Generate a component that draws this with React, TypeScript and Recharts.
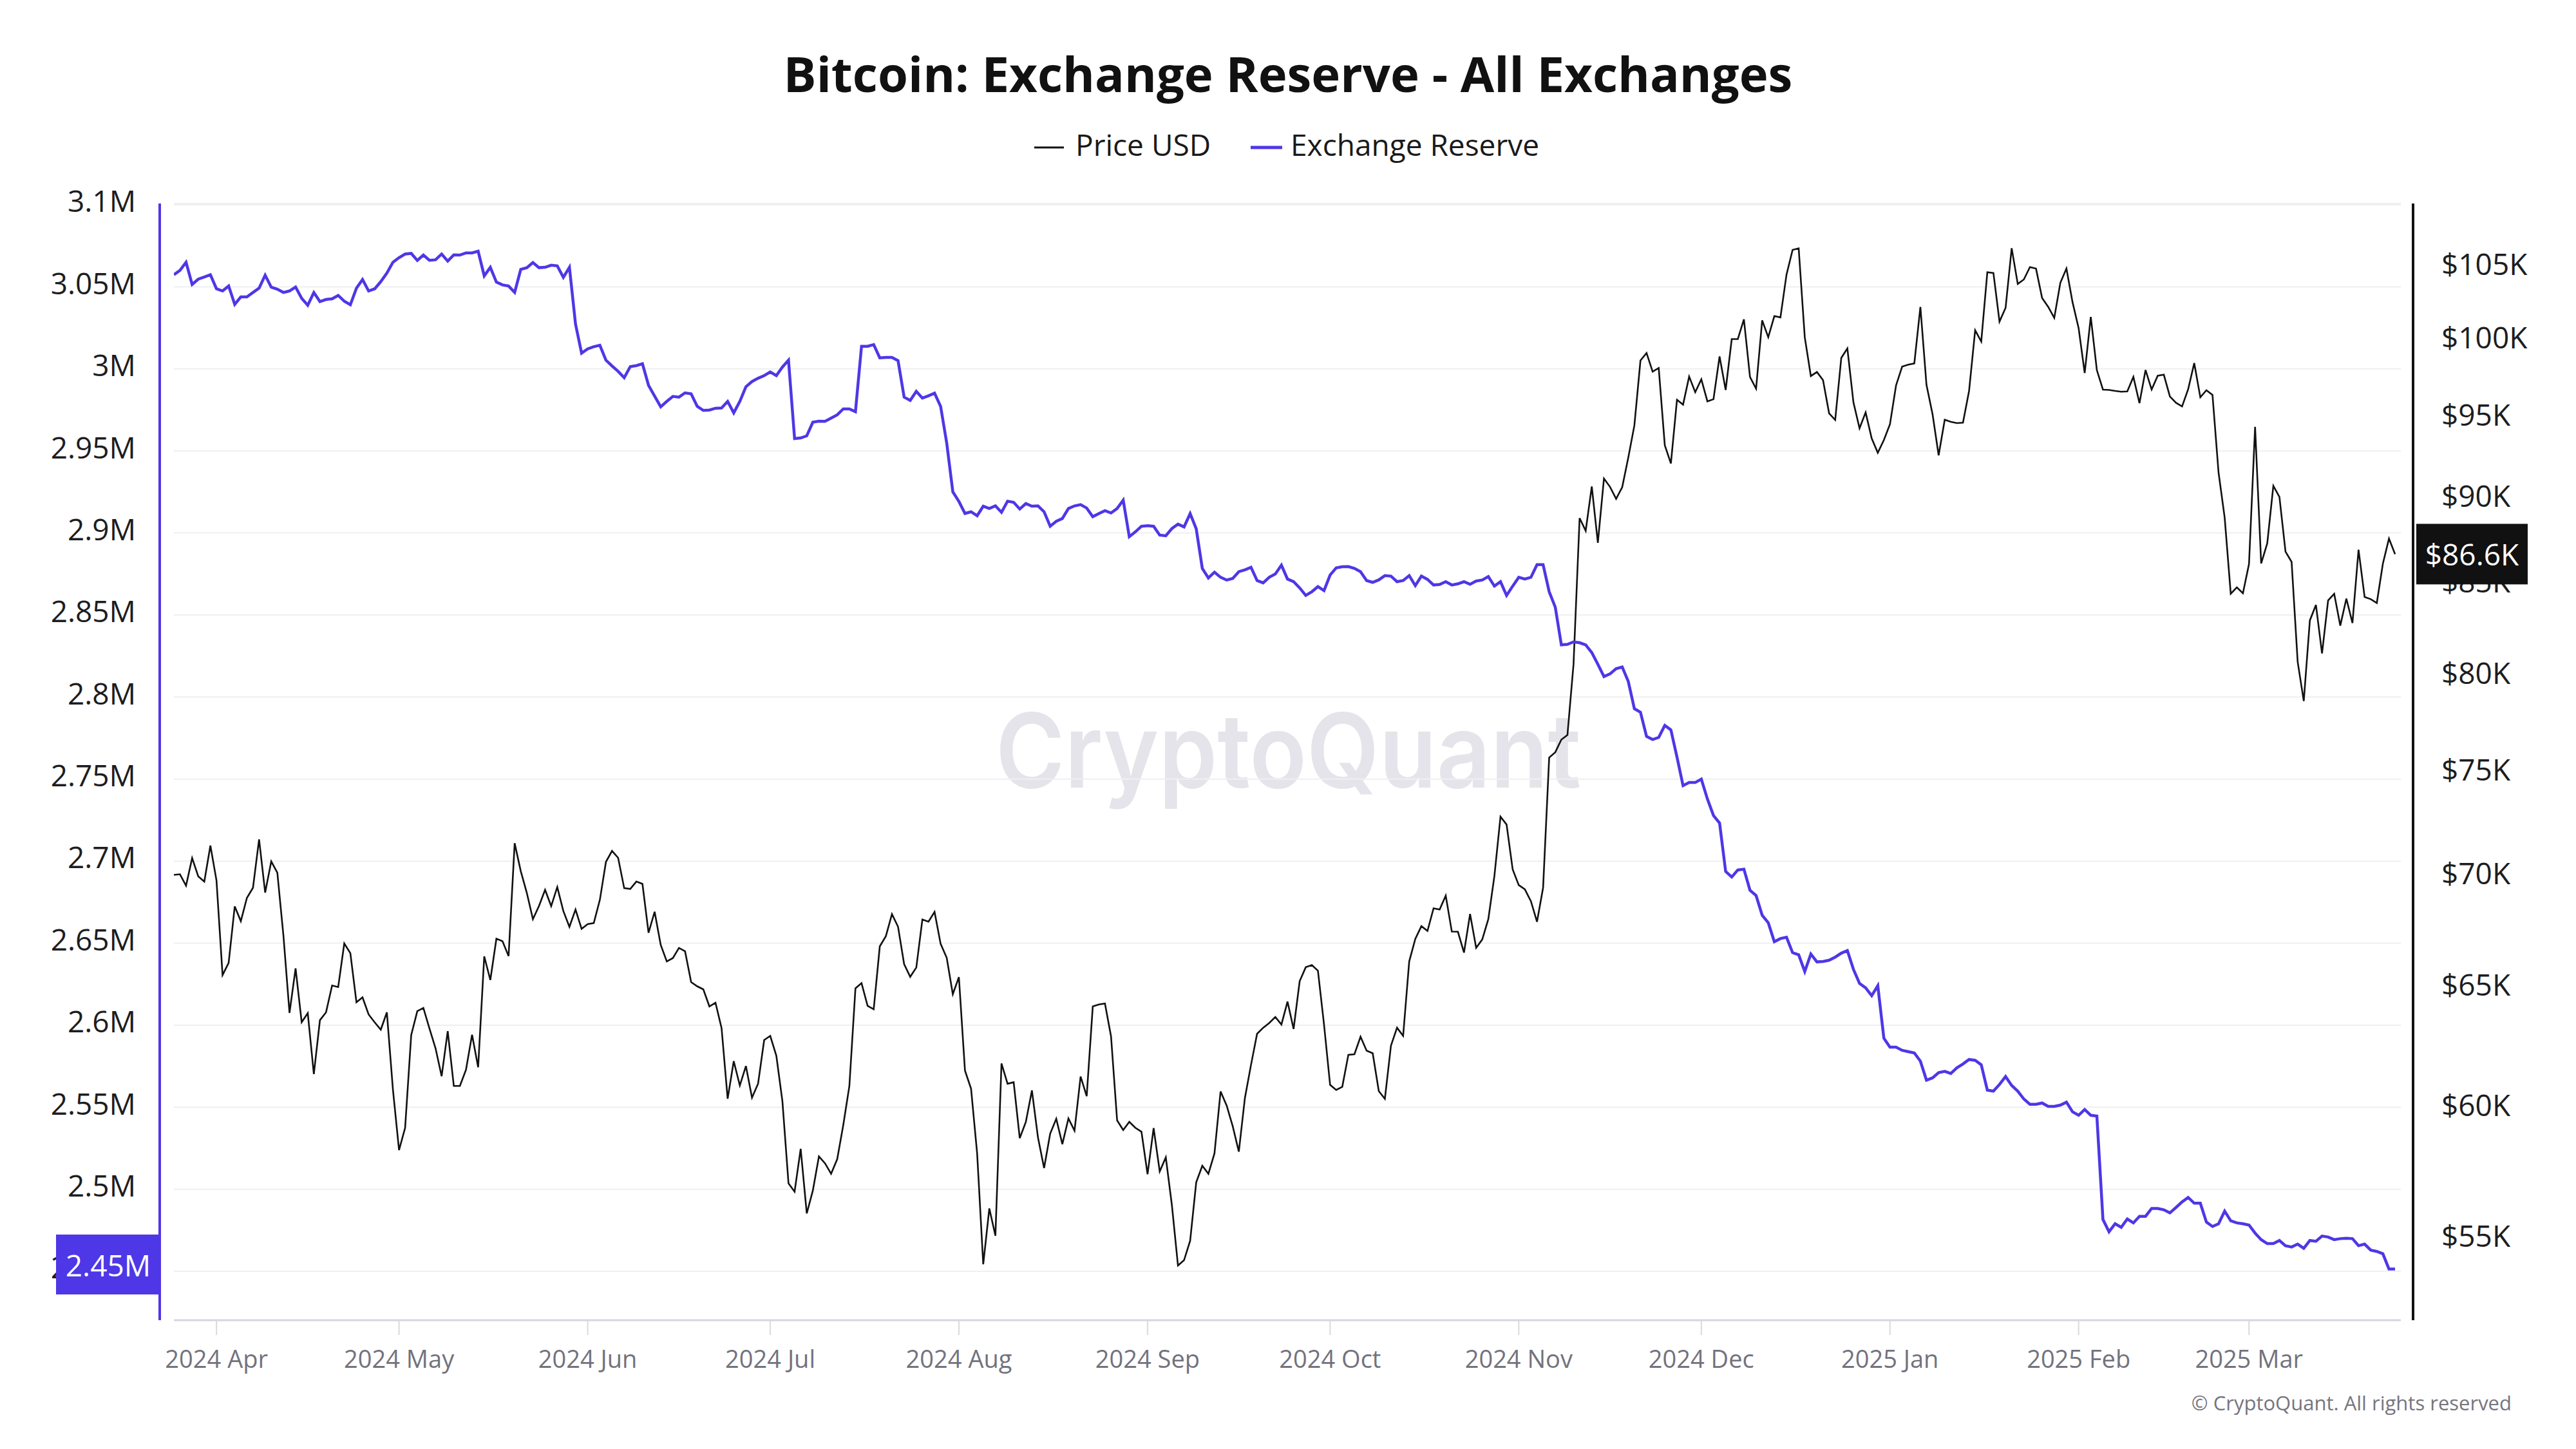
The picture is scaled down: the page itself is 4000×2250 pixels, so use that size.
import React from 'react';
import { LineChart, Line, XAxis, YAxis, CartesianGrid, ReferenceLine } from 'recharts';

// ---------------- DATA ----------------
const START_DATE = '2024-03-25';

// Daily BTC price (USD), 2024-03-25 .. 2025-03-25
const priceUSD: number[] = [
  69958, 69987, 69455, 70744, 69892, 69645, 71333,
  69702, 65446, 65980, 68508, 67837, 68896, 69362, 71631, 69139, 70587, 70060, 67195, 63821, 65738, 63426, 63811, 61276, 63513, 63843, 64994, 64927, 66837, 66407, 64276, 64482, 63756, 63419, 63114, 63842, 60636,
  58254, 59123, 62889, 63892, 64031, 63162, 62335, 61187, 63050, 60793, 60794, 61448, 62901, 61553, 66268, 65231, 67051, 66940, 66278, 71448, 70136, 69122, 67929, 68526, 69265, 68518, 69394, 68296, 67578, 68364, 67491,
  67706, 67751, 68804, 70567, 71082, 70757, 69342, 69305, 69648, 69540, 67314, 68263, 66774, 66044, 66191, 66639, 66491, 65140, 64960, 64828, 64096, 64253, 63180, 60277, 61804, 60811, 61604, 60320, 60887, 62678,
  62851, 62029, 60173, 56977, 56662, 58303, 55849, 56706, 58009, 57742, 57345, 57899, 59231, 60787, 64870, 65097, 64118, 63974, 66709, 67164, 68154, 67585, 65927, 65372, 65777, 67913, 67813, 68255, 66820, 66201, 64619,
  65357, 61415, 60680, 58116, 53991, 56034, 55027, 61710, 60881, 60945, 58719, 59354, 60610, 58737, 57560, 58894, 59478, 58483, 59493, 59012, 61175, 60381, 64094, 64178, 64219, 62834, 59415, 59034, 59359, 59123, 58969,
  57325, 59112, 57431, 57971, 56160, 53948, 54140, 54841, 57019, 57648, 57343, 58127, 60571, 60005, 59182, 58192, 60309, 61649, 62940, 63192, 63394, 63648, 63329, 64301, 63143, 65181, 65790, 65887, 65635, 63329,
  60837, 60632, 60759, 62067, 62089, 62818, 62236, 62131, 60583, 60274, 62445, 63193, 62851, 66046, 67041, 67612, 67399, 68418, 68362, 69001, 67367, 67362, 66432, 68161, 66642, 67014, 67929, 69907, 72720, 72339, 70215,
  69482, 69289, 68742, 67811, 69359, 75639, 75904, 76545, 76778, 80474, 88701, 87955, 90585, 87250, 91066, 90558, 89845, 90542, 92343, 94339, 98504, 98997, 97777, 98013, 93102, 91985, 95962, 95652, 97461, 96449,
  97279, 95865, 96002, 98768, 96593, 99920, 99923, 101236, 97432, 96675, 101173, 100043, 101459, 101372, 104298, 106030, 106140, 100041, 97490, 97755, 97225, 95104, 94686, 98676, 99299, 95795, 94164, 95163, 93530, 92643, 93429,
  94419, 96886, 98107, 98236, 98315, 102078, 96922, 95043, 92484, 94701, 94566, 94488, 94516, 96534, 100505, 99756, 104462, 104408, 101089, 102016, 106147, 103653, 103960, 104819, 104714, 102682, 102088, 101333, 103733, 104722, 102405,
  100655, 97688, 101405, 97871, 96616, 96594, 96529, 96482, 96500, 97437, 95747, 97885, 96624, 97508, 97580, 96176, 95773, 95539, 96636, 98334, 96125, 96577, 96274, 91418, 88737, 84347, 84704, 84373,
  86032, 94248, 86065, 87222, 90623, 89961, 86742, 86154, 80601, 78532, 82862, 83722, 81066, 83969, 84343, 82579, 84075, 82718, 86854, 84167, 84043, 83832, 86054, 87498, 86600,
];

// Daily exchange reserve (millions of BTC), 2024-03-25 .. 2025-03-25
const reserveM: number[] = [
  3.0574, 3.0600, 3.0650, 3.0515, 3.0547, 3.0560, 3.0574, 3.0488, 3.0475, 3.0505,
  3.0393, 3.0439, 3.0439, 3.0466, 3.0492, 3.0571, 3.0498, 3.0486, 3.0466, 3.0475,
  3.0499, 3.0430, 3.0388, 3.0465, 3.0410, 3.0423, 3.0427, 3.0448, 3.0413, 3.0391,
  3.0492, 3.0545, 3.0475, 3.0488, 3.0532, 3.0584, 3.0650, 3.0678, 3.0700, 3.0704,
  3.0661, 3.0694, 3.0662, 3.0665, 3.0700, 3.0657, 3.0695, 3.0694, 3.0707, 3.0707,
  3.0717, 3.0567, 3.0619, 3.0529, 3.0512, 3.0505, 3.0466, 3.0606, 3.0617, 3.0648,
  3.0617, 3.0619, 3.0632, 3.0628, 3.0558, 3.0619, 3.0273, 3.0096, 3.0122, 3.0135,
  3.0144, 3.0053, 3.0018, 2.9985, 2.9946, 3.0014, 3.0020, 3.0031, 2.9900, 2.9834,
  2.9769, 2.9802, 2.9832, 2.9828, 2.9854, 2.9848, 2.9772, 2.9747, 2.9749, 2.9760,
  2.9762, 2.9802, 2.9732, 2.9802, 2.9891, 2.9923, 2.9943, 2.9959, 2.9981, 2.9959,
  3.0011, 3.0053, 2.9575, 2.9579, 2.9592, 2.9675, 2.9681, 2.9680, 2.9700, 2.9720,
  2.9756, 2.9756, 2.9739, 3.0138, 3.0138, 3.0148, 3.0067, 3.0070, 3.0070, 3.0050,
  2.9828, 2.9808, 2.9863, 2.9822, 2.9836, 2.9852, 2.9771, 2.9548, 2.9251, 2.9192,
  2.9119, 2.9129, 2.9105, 2.9163, 2.9149, 2.9165, 2.9126, 2.9194, 2.9187, 2.9146,
  2.9179, 2.9163, 2.9165, 2.9129, 2.9041, 2.9071, 2.9088, 2.9149, 2.9165, 2.9173,
  2.9152, 2.9099, 2.9118, 2.9136, 2.9122, 2.9149, 2.9200, 2.8977, 2.9007, 2.9041,
  2.9044, 2.9041, 2.8987, 2.8983, 2.9027, 2.9054, 2.9037, 2.9118, 2.9025, 2.8784,
  2.8726, 2.8761, 2.8730, 2.8713, 2.8723, 2.8764, 2.8775, 2.8791, 2.8710, 2.8696,
  2.8730, 2.8750, 2.8804, 2.8719, 2.8703, 2.8665, 2.8619, 2.8642, 2.8673, 2.8649,
  2.8744, 2.8787, 2.8794, 2.8795, 2.8784, 2.8764, 2.8710, 2.8699, 2.8714, 2.8740,
  2.8737, 2.8703, 2.8710, 2.8740, 2.8679, 2.8737, 2.8717, 2.8683, 2.8686, 2.8703,
  2.8683, 2.8690, 2.8703, 2.8687, 2.8707, 2.8713, 2.8734, 2.8676, 2.8703, 2.8619,
  2.8676, 2.8730, 2.8719, 2.8730, 2.8807, 2.8807, 2.8642, 2.8548, 2.8318, 2.8321,
  2.8336, 2.8331, 2.8318, 2.8271, 2.8200, 2.8125, 2.8141, 2.8173, 2.8183, 2.8095,
  2.7929, 2.7907, 2.7760, 2.7741, 2.7754, 2.7827, 2.7800, 2.7634, 2.7460, 2.7479,
  2.7479, 2.7500, 2.7379, 2.7278, 2.7232, 2.6937, 2.6903, 2.6946, 2.6951, 2.6822,
  2.6790, 2.6670, 2.6624, 2.6509, 2.6528, 2.6536, 2.6442, 2.6429, 2.6327, 2.6434,
  2.6386, 2.6388, 2.6396, 2.6415, 2.6439, 2.6455, 2.6340, 2.6255, 2.6228, 2.6180,
  2.6241, 2.5920, 2.5866, 2.5866, 2.5847, 2.5839, 2.5831, 2.5781, 2.5665, 2.5679,
  2.5711, 2.5719, 2.5706, 2.5740, 2.5764, 2.5791, 2.5786, 2.5759, 2.5604, 2.5598,
  2.5639, 2.5687, 2.5633, 2.5598, 2.5550, 2.5518, 2.5518, 2.5526, 2.5505, 2.5505,
  2.5513, 2.5531, 2.5472, 2.5451, 2.5486, 2.5451, 2.5446, 2.4816, 2.4741, 2.4790,
  2.4768, 2.4819, 2.4795, 2.4835, 2.4835, 2.4883, 2.4883, 2.4875, 2.4856, 2.4889,
  2.4923, 2.4950, 2.4915, 2.4915, 2.4800, 2.4773, 2.4790, 2.4867, 2.4808, 2.4795,
  2.4790, 2.4782, 2.4733, 2.4693, 2.4669, 2.4669, 2.4688, 2.4656, 2.4648, 2.4666,
  2.4640, 2.4688, 2.4683, 2.4715, 2.4709, 2.4693, 2.4699, 2.4701, 2.4699, 2.4656,
  2.4666, 2.4629, 2.4621, 2.4607, 2.4514, 2.4514,
];

const monthTickDates = [
  '2024-04-01', '2024-05-01', '2024-06-01', '2024-07-01', '2024-08-01', '2024-09-01',
  '2024-10-01', '2024-11-01', '2024-12-01', '2025-01-01', '2025-02-01', '2025-03-01',
];
const monthTickLabels = [
  '2024 Apr', '2024 May', '2024 Jun', '2024 Jul', '2024 Aug', '2024 Sep',
  '2024 Oct', '2024 Nov', '2024 Dec', '2025 Jan', '2025 Feb', '2025 Mar',
];
const reserveTicks = [2.45, 2.5, 2.55, 2.6, 2.65, 2.7, 2.75, 2.8, 2.85, 2.9, 2.95, 3, 3.05, 3.1];
const priceTicks = [55000, 60000, 65000, 70000, 75000, 80000, 85000, 90000, 95000, 100000, 105000];

const TITLE = 'Bitcoin: Exchange Reserve - All Exchanges';
const PRICE_NAME = 'Price USD';
const RESERVE_NAME = 'Exchange Reserve';

// ---------------- BUILD ----------------
const DAY = 86400000;
const t0 = Date.parse(START_DATE + 'T00:00:00Z');
const data = priceUSD.map((p, i) => ({ t: t0 + i * DAY, price: p, reserve: reserveM[i] }));
const monthTicks = monthTickDates.map((d) => Date.parse(d + 'T00:00:00Z'));
const monthLabelOf = (v: number) => monthTickLabels[monthTicks.indexOf(v)] ?? '';

const PURPLE = '#4e37e6';
const FONT = '"Open Sans", "Noto Sans", sans-serif';

const W = 4000;
const H = 2250;
const PLOT_LEFT = 270;
const PLOT_RIGHT = 3728;
const PLOT_TOP = 316;
const PLOT_BOTTOM = 2050;
const xMin = t0;
const xMax = t0 + (data.length - 1) * DAY + 0.95 * DAY;
const msPerPx = (xMax - xMin) / (PLOT_RIGHT - PLOT_LEFT);
const leftAxisLineX = xMin - 22 * msPerPx;
const rightAxisLineX = xMax + 19 * msPerPx;

const RESERVE_DOMAIN: [number, number] = [2.4202, 3.1008];
const PRICE_DOMAIN: [number, number] = [52020, 109350];

const lastReserve = reserveM[reserveM.length - 1];
const lastPrice = priceUSD[priceUSD.length - 1];
const lastReserveText = `${lastReserve.toFixed(2)}M`;
const lastPriceText = `$${(lastPrice / 1000).toFixed(1)}K`;

// Badges drawn as the single tick of an extra 1px-wide axis (so they sit above the tick labels)
const LeftBadgeTick = (props: any) => {
  const y = (props.y ?? 0) - 7;
  return (
    <g>
      <rect x={PLOT_LEFT - 183} y={y - 46.5} width={161} height={93} fill={PURPLE} />
      <text x={PLOT_LEFT - 102} y={y} textAnchor="middle" dominantBaseline="central" fill="#ffffff" fontSize={46} fontFamily={FONT}>
        {lastReserveText}
      </text>
    </g>
  );
};

const RightBadgeTick = (props: any) => {
  const y = props.y ?? 0;
  return (
    <g>
      <rect x={PLOT_RIGHT + 24} y={y - 47} width={173} height={94} fill="#111111" />
      <text x={PLOT_RIGHT + 110.5} y={y} textAnchor="middle" dominantBaseline="central" fill="#ffffff" fontSize={46} fontFamily={FONT}>
        {lastPriceText}
      </text>
    </g>
  );
};

export default function App() {
  return (
    <div style={{ position: 'fixed', left: 0, top: 0, width: W, height: H, background: '#ffffff', fontFamily: FONT }}>
      <svg width={W} height={H} style={{ position: 'absolute', left: 0, top: 0 }}>
        <text x={1546} y={1223} fontSize={160} fontWeight={600} fill="#e4e4ea" fontFamily='Inter, "Open Sans", sans-serif' textLength={909} lengthAdjust="spacingAndGlyphs">
          CryptoQuant
        </text>
        <text x={2000} y={143} textAnchor="middle" fontSize={76} fontWeight={700} fill="#111111" fontFamily={FONT}>
          {TITLE}
        </text>
        <line x1={1606} x2={1652} y1={229} y2={229} stroke="#111111" strokeWidth={3} />
        <text x={1670} y={242} fontSize={46} fill="#1a1a1a" fontFamily={FONT}>{PRICE_NAME}</text>
        <line x1={1942} x2={1991} y1={229} y2={229} stroke={PURPLE} strokeWidth={5} />
        <text x={2004} y={242} fontSize={46} fill="#1a1a1a" fontFamily={FONT}>{RESERVE_NAME}</text>
        <text x={3900} y={2190} textAnchor="end" fontSize={31} fill="#75757f" fontFamily={FONT}>
          © CryptoQuant. All rights reserved
        </text>
      </svg>
      <div style={{ position: 'absolute', left: 0, top: 0 }}>
        <LineChart
          width={W}
          height={H}
          data={data}
          margin={{ top: PLOT_TOP, right: 0, bottom: H - PLOT_BOTTOM - 100, left: 0 }}
          style={{ fontFamily: FONT }}
        >
          <CartesianGrid yAxisId="left" vertical={false} stroke="#efeff3" strokeWidth={2} />
          <XAxis
            dataKey="t"
            type="number"
            domain={[xMin, xMax]}
            allowDataOverflow
            ticks={monthTicks}
            interval={0}
            tickFormatter={monthLabelOf}
            height={100}
            tickSize={23}
            tickMargin={24}
            axisLine={{ stroke: '#d6d6de', strokeWidth: 3 }}
            tickLine={{ stroke: '#d9d9df', strokeWidth: 2 }}
            tick={{ fontSize: 38, fill: '#72727d', fontFamily: FONT }}
          />
          <YAxis
            yAxisId="left"
            orientation="left"
            width={PLOT_LEFT - 1}
            type="number"
            domain={RESERVE_DOMAIN}
            allowDataOverflow
            ticks={reserveTicks}
            interval={0}
            tickFormatter={(v: number) => `${v}M`}
            axisLine={false}
            tickLine={false}
            tickSize={0}
            tickMargin={59}
            tick={{ fontSize: 46, fill: '#1d1d1f', fontFamily: FONT, dy: -5 }}
          />
          <YAxis
            yAxisId="right"
            orientation="right"
            width={W - PLOT_RIGHT - 1}
            type="number"
            scale="log"
            domain={PRICE_DOMAIN}
            allowDataOverflow
            ticks={priceTicks}
            interval={0}
            tickFormatter={(v: number) => `$${v / 1000}K`}
            axisLine={false}
            tickLine={false}
            tickSize={0}
            tickMargin={63}
            tick={{ fontSize: 46, fill: '#1d1d1f', fontFamily: FONT, textAnchor: 'start' }}
          />
          <YAxis
            yAxisId="leftBadge"
            orientation="left"
            width={1}
            type="number"
            domain={RESERVE_DOMAIN}
            allowDataOverflow
            ticks={[lastReserve]}
            interval={0}
            axisLine={false}
            tickLine={false}
            tick={<LeftBadgeTick />}
          />
          <YAxis
            yAxisId="rightBadge"
            orientation="right"
            width={1}
            type="number"
            scale="log"
            domain={PRICE_DOMAIN}
            allowDataOverflow
            ticks={[lastPrice]}
            interval={0}
            axisLine={false}
            tickLine={false}
            tick={<RightBadgeTick />}
          />
          <ReferenceLine yAxisId="left" x={leftAxisLineX} ifOverflow="visible" stroke={PURPLE} strokeWidth={4} />
          <ReferenceLine yAxisId="right" x={rightAxisLineX} ifOverflow="visible" stroke="#111111" strokeWidth={4} />
          <Line
            yAxisId="right"
            type="linear"
            dataKey="price"
            name={PRICE_NAME}
            stroke="#111111"
            strokeWidth={2.6}
            dot={false}
            activeDot={false}
            isAnimationActive={false}
          />
          <Line
            yAxisId="left"
            type="linear"
            dataKey="reserve"
            name={RESERVE_NAME}
            stroke={PURPLE}
            strokeWidth={4.5}
            dot={false}
            activeDot={false}
            isAnimationActive={false}
          />
        </LineChart>
      </div>
    </div>
  );
}
